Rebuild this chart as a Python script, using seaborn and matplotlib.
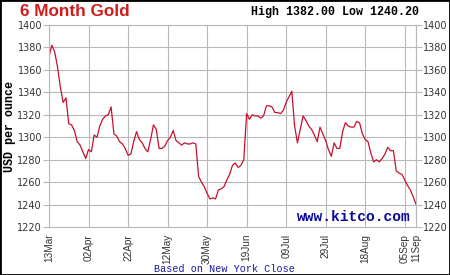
import matplotlib
matplotlib.use("Agg")
import matplotlib.pyplot as plt
import seaborn as sns
import pandas as pd
from matplotlib.patches import Rectangle

# ---- data (trading-day index from 13 Mar, USD per ounce) ----
prices = [
    1372, 1382, 1376, 1363, 1345, 1331, 1335, 1312, 1311, 1306,
    1296, 1293, 1287, 1281, 1289, 1287, 1302, 1300, 1310, 1316,
    1319, 1320, 1327, 1303, 1301, 1296, 1294, 1290, 1284, 1285,
    1296, 1305, 1298, 1295, 1290, 1287, 1298, 1311, 1307, 1290,
    1290, 1292, 1297, 1300, 1306, 1297, 1295, 1293, 1295, 1294,
    1294, 1295, 1294, 1265, 1260, 1256, 1250, 1245, 1246, 1245,
    1253, 1254, 1256, 1262, 1267, 1275, 1277, 1273, 1275, 1280,
    1321, 1316, 1320, 1319, 1319, 1317, 1319, 1328, 1328, 1327,
    1322, 1322, 1321, 1324, 1331, 1336, 1341, 1310, 1295, 1307,
    1319, 1315, 1310, 1307, 1302, 1296, 1309, 1303, 1297, 1289,
    1283, 1295, 1290, 1290, 1305, 1313, 1310, 1309, 1309, 1314,
    1313, 1303, 1298, 1296, 1286, 1278, 1280, 1278, 1281, 1285,
    1291, 1288, 1288, 1270, 1268, 1267, 1262, 1257, 1253, 1247,
    1240.2,
]
tick_days = [0, 14, 28, 42, 56, 70, 84, 98, 112, 126, 130]
tick_labels = ["13Mar", "02Apr", "22Apr", "12May", "30May", "19Jun",
               "09Jul", "29Jul", "18Aug", "05Sep", "11Sep"]
y_ticks = [1220, 1240, 1260, 1280, 1300, 1320, 1340, 1360, 1380, 1400]
title = "6 Month Gold"
hi_lo = "High 1382.00 Low 1240.20"

df = pd.DataFrame({"day": list(range(len(prices))), "price": prices})

sns.set_style("white")
plt.rcParams["font.family"] = ["DejaVu Sans"]

W, H = 450, 275
fig = plt.figure(figsize=(W / 100, H / 100), dpi=100)
ax = fig.add_axes([49 / W, 1 - 227 / H, (416 - 49) / W, (227 - 25) / H])

sns.lineplot(data=df, x="day", y="price", ax=ax, color="#c8102e",
             linewidth=0.9)

grid_c = "#b8b8b8"
ax.set_xlim(0, 130)
ax.set_ylim(1220, 1400)
ax.set_xticks(tick_days)
ax.set_xticklabels(tick_labels, rotation=90, fontsize=7.2, color="#333333",
                   family="Liberation Sans")
ax.set_yticks(y_ticks)
ax.set_yticklabels([str(v) for v in y_ticks], fontsize=7, color="#333333")
ax.tick_params(axis="y", which="both", left=True, right=True,
               labelleft=True, labelright=True, length=4, width=0.8,
               color=grid_c, pad=1)
ax.tick_params(axis="x", length=4, width=0.8, color=grid_c, pad=1)
ax.grid(True, color=grid_c, linewidth=0.8)
ax.set_axisbelow(True)
for s in ax.spines.values():
    s.set_color(grid_c)
    s.set_linewidth(0.8)
ax.set_xlabel("")
ax.set_ylabel("")

def px(x, y):
    return x / W, 1 - y / H

fig.text(*px(20, 12), title, color="#d11a1a", fontsize=12.3,
         fontweight="bold", family="Liberation Sans", va="center", ha="left")
fig.text(*px(419, 12), hi_lo, color="black", fontsize=8.4,
         fontweight="bold", family="Liberation Mono", va="center", ha="right")
fig.text(*px(10, 126), "USD per ounce", color="black", fontsize=8.4,
         fontweight="bold", family="Liberation Mono", rotation=90,
         va="center", ha="center")
fig.text(*px(224, 268.5), "Based on New York Close", color="#1a1aa0",
         fontsize=7.3, family="Liberation Mono", va="center", ha="center")
fig.text(*px(354, 217), "www.kitco.com", color="#0a0a9a", fontsize=10.5,
         fontweight="bold", family="Liberation Mono", va="center",
         ha="center")

fig.patches.append(Rectangle((0, 0), 1, 1, transform=fig.transFigure,
                             fill=False, edgecolor="black", linewidth=2))

fig.savefig("out.png", dpi=100)
